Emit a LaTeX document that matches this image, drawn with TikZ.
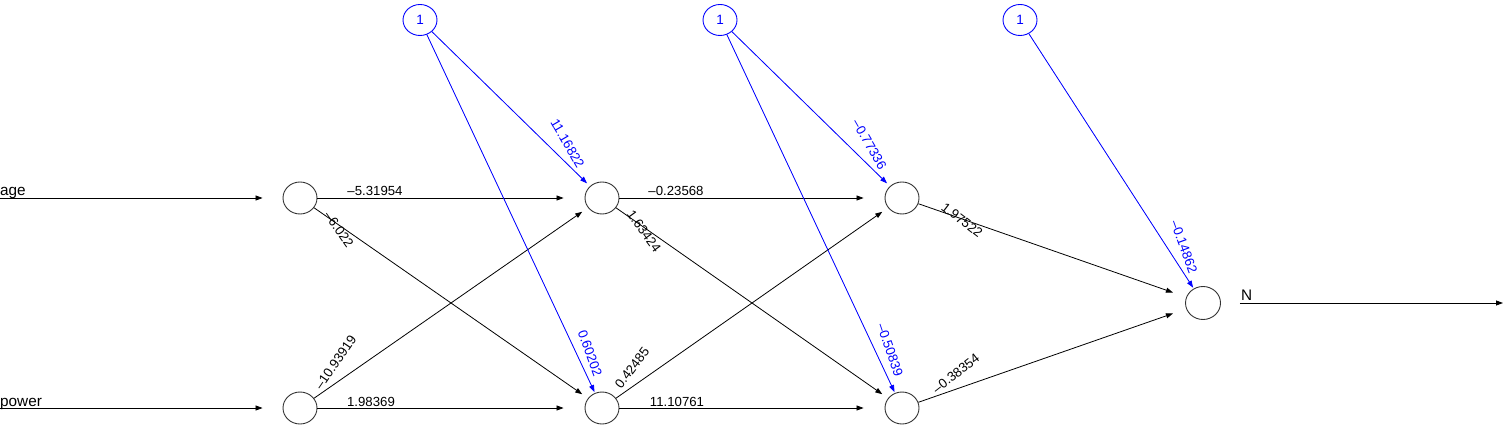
\documentclass[tikz,border=0pt]{standalone}
\usepackage{fontspec}
\setmainfont{Liberation Sans}
\usetikzlibrary{arrows.meta,shapes.geometric}
\begin{document}
\begin{tikzpicture}[x=1pt,y=-1pt,
 neuron/.style={ellipse,draw=black!80,line width=0.9pt,minimum width=34pt,minimum height=32pt,inner sep=0pt},
 biasn/.style={ellipse,draw=blue,line width=0.9pt,minimum width=34pt,minimum height=31pt,inner sep=0pt,text=blue,font=\fontsize{13.5}{13.5}\selectfont},
 edge/.style={line width=0.8pt,-{Triangle[length=7pt,width=5pt]}},
 bedge/.style={edge,draw=blue,fill=blue},
 wl/.style={font=\fontsize{13.2}{13.2}\selectfont,inner sep=0pt},
 bl/.style={wl,text=blue},
 io/.style={font=\fontsize{15.3}{15.3}\selectfont,inner sep=0pt}]
\useasboundingbox (0,0) rectangle (1503,430);
% nodes
\node[neuron] (i1) at (300,198) {};
\node[neuron] (i2) at (300,408) {};
\node[neuron] (h1a) at (602,198) {};
\node[neuron] (h1b) at (602,408) {};
\node[neuron] (h2a) at (902,198) {};
\node[neuron] (h2b) at (902,408) {};
\node[neuron,minimum width=35pt,minimum height=33pt] (o) at (1203,303) {};
\node[biasn] (b1) at (420,20) {1};
\node[biasn] (b2) at (720,20) {1};
\node[biasn] (b3) at (1020,20) {1};
\coordinate (ia) at (0,198);
\coordinate (ib) at (0,408);
\coordinate (oe) at (1503,303);
% input / output lines
\draw[edge,shorten >=20pt] (ia) -- (i1);
\draw[edge,shorten >=20pt] (ib) -- (i2);
\draw[edge,shorten <=19pt] (o) -- (oe);
\node[io,anchor=base west] (lage) at (0,196) {age};
\node[io,anchor=base west] (lpow) at (0,406) {power};
\node[io,anchor=base west] (lN) at (1241,300) {N};
% layer 1 -> 2
\draw[edge,shorten >=21pt] (i1) -- (h1a);
\draw[edge,shorten >=21pt] (i2) -- (h1b);
\draw[edge,shorten >=7pt] (i1) -- (h1b);
\draw[edge,shorten >=7pt] (i2) -- (h1a);
% layer 2 -> 3
\draw[edge,shorten >=21pt] (h1a) -- (h2a);
\draw[edge,shorten >=21pt] (h1b) -- (h2b);
\draw[edge,shorten >=7pt] (h1a) -- (h2b);
\draw[edge,shorten >=7pt] (h1b) -- (h2a);
% layer 3 -> out
\draw[edge,shorten >=14pt] (h2a) -- (o);
\draw[edge,shorten >=14pt] (h2b) -- (o);
% bias
\draw[bedge,shorten >=4pt] (b1) -- (h1a);
\draw[bedge,shorten >=1pt] (b1) -- (h1b);
\draw[bedge,shorten >=4pt] (b2) -- (h2a);
\draw[bedge,shorten >=1pt] (b2) -- (h2b);
\draw[bedge,shorten >=1pt] (b3) -- (o);
% weight labels
\node[wl,anchor=base] (w1) at (375,196) {–5.31954};
\node[wl,anchor=base] (w2) at (371,406) {1.98369};
\node[wl,anchor=base] (w3) at (676,196) {–0.23568};
\node[wl,anchor=base] (w4) at (677,406) {11.10761};
\node[wl,rotate=-55] (w5) at (339,229) {–6.022};
\node[wl,rotate=55.5] (w6) at (335.5,362.5) {–10.93919};
\node[wl,rotate=-54] (w7) at (644,231) {1.63424};
\node[wl,rotate=53] (w8) at (632,368) {0.42485};
\node[wl,rotate=-37.6] (w9) at (962,220) {1.97522};
\node[wl,rotate=38] (w10) at (956,373.5) {–0.38354};
\node[bl,rotate=-60] (c1) at (567.5,143.5) {11.16822};
\node[bl,rotate=-70] (c2) at (590,353.5) {0.60202};
\node[bl,rotate=-60] (c3) at (869.5,144.5) {–0.77336};
\node[bl,rotate=-71] (c4) at (890,350) {–0.50839};
\node[bl,rotate=-70] (c5) at (1184,247) {–0.14862};
\end{tikzpicture}
\end{document}
